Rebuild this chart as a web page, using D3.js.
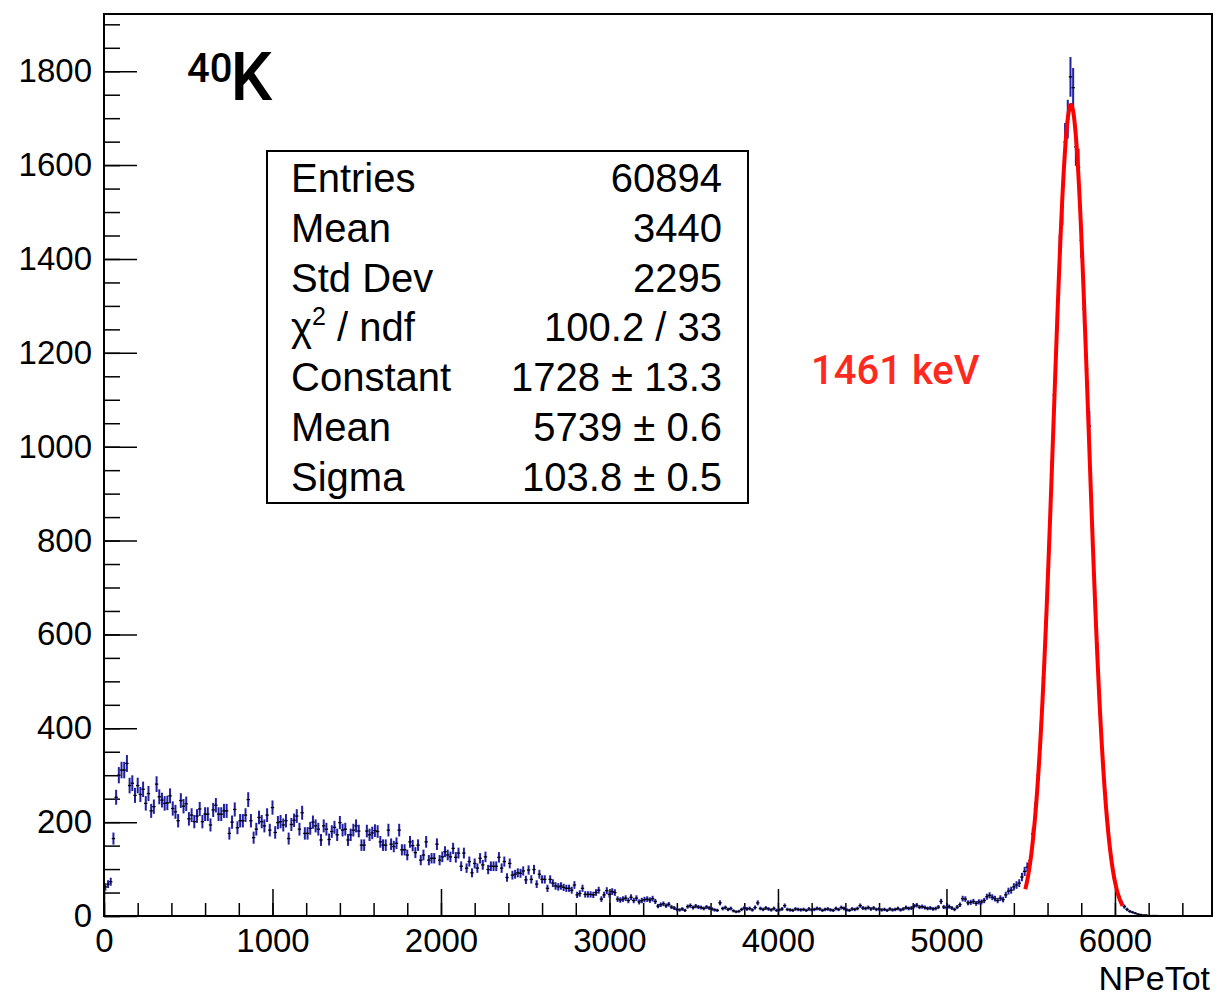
<!DOCTYPE html>
<html lang="en">
<head>
<meta charset="utf8">
<script type="text/javascript" src="https://d3js.org/d3.v7.min.js"></script>
<title>40K NPeTot</title>
<style>
  body { margin: 0; background: #fff; }
</style>
</head>
<body>
<div class="hist"></div>
<script type="text/javascript">
    // histogram settings
    var binWidth = 16;
    var xMax = 6576;
    var yMax = 1922;
    // bin contents (bin i covers [16i, 16i+16))
    var counts = [
        62,68,73,165,253,300,311,311,325,278,283,257,278,259,270,240,261,224,233,281,
        254,247,240,241,256,229,222,203,246,234,239,207,215,201,213,228,201,217,217,194,
        226,236,217,217,224,224,176,200,227,188,203,203,215,248,203,167,185,210,201,192,
        215,183,231,178,199,201,194,203,165,195,204,213,185,220,176,176,187,200,192,185,
        162,192,185,163,180,189,173,199,183,185,162,173,183,192,181,151,151,181,173,177,
        182,180,158,151,151,183,153,148,155,183,141,141,130,158,150,135,151,119,130,158,
        119,123,123,153,119,126,137,130,126,144,125,134,106,134,102,116,92,112,102,123,
        109,126,99,106,106,106,125,102,116,82,112,87,89,92,91,96,77,98,78,99,
        68,89,78,78,59,78,70,64,62,64,61,59,59,55,66,45,48,59,46,46,
        46,45,50,55,36,45,54,46,52,50,36,34,36,38,33,40,33,38,30,33,
        35,36,34,37,31,21,24,26,22,25,19,17,14,13,15,12,20,22,18,21,
        19,18,16,19,17,15,13,12,28,16,18,14,16,11,9,10,14,17,15,16,
        13,18,28,16,14,17,15,13,16,12,13,15,22,14,13,12,15,14,13,14,
        12,15,13,14,16,15,12,14,15,13,12,16,14,18,16,13,12,15,14,16,
        22,17,16,18,15,17,14,15,13,14,12,15,13,14,16,13,15,18,16,17,
        21,23,19,20,18,16,17,15,16,19,31,19,18,20,17,14,19,24,37,36,
        28,29,31,27,30,30,33,41,44,40,37,33,38,35,45,53,55,62,66,70,
        83,95,104,118,175,228,300,395,508,630,775,940,1110,1250,1414,1511,1649,1698,1788,1765,
        1639,1595,1440,1294,1165,1044,840,690,560,430,330,250,182,128,88,62,42,28,20,14,
        10,8,6,4,3,2,2,1,1,1,1,0,0,0,0,0,0,0,0,0,
        0,0,0,0,0,0,0,0,0,0,0
    ];
    // gaussian fit: constant, mean, sigma
    var fitPar = [1728, 5739, 103.8];
    var fitRange = [5468, 6046];
    // stat box
    var statNames = ["Entries", "Mean", "Std Dev", "chi2", "Constant", "Mean", "Sigma"];
    var statValues = ["60894", "3440", "2295", "100.2 / 33", "1728 \u00b1 13.3", "5739 \u00b1 0.6", "103.8 \u00b1 0.5"];
    var xTitle = "NPeTot";
    var peakLabel = "1461 keV";

    var width = 1218, height = 997;
    var fl = 104, fr = 1212, ft = 14, fb = 916;
    var font = "'Liberation Sans', Arial, Helvetica, sans-serif";

    var svg = d3.select("body div.hist")
        .append("svg")
        .attr("width", width)
        .attr("height", height)
        .style("background", "#fff");

    var x = d3.scaleLinear().domain([0, xMax]).range([fl, fr]);
    var y = d3.scaleLinear().domain([0, yMax]).range([fb, ft]);

    // 坐标轴 - minor then major ticks, pointing into the frame
    function styleAxis(g) {
        g.select(".domain").remove();
        g.selectAll(".tick line").attr("stroke", "#000").attr("stroke-width", 1.5);
        g.selectAll(".tick text").attr("fill", "#000").style("font-family", font).style("font-size", "33px");
    }
    svg.append("g").attr("transform", "translate(0," + fb + ")")
        .call(d3.axisBottom(x).tickValues(d3.range(0, xMax, 200)).tickSize(-13).tickFormat(""))
        .call(styleAxis);
    svg.append("g").attr("transform", "translate(0," + fb + ")")
        .call(d3.axisBottom(x).tickValues(d3.range(0, xMax, 1000)).tickSize(-27).tickPadding(13).tickFormat(d3.format("d")))
        .call(styleAxis);
    svg.append("g").attr("transform", "translate(" + fl + ",0)")
        .call(d3.axisLeft(y).tickValues(d3.range(0, yMax, 50)).tickSize(-16).tickFormat(""))
        .call(styleAxis);
    svg.append("g").attr("transform", "translate(" + fl + ",0)")
        .call(d3.axisLeft(y).tickValues(d3.range(0, 1900, 200)).tickSize(-33).tickPadding(12).tickFormat(d3.format("d")))
        .call(styleAxis);

    // 数据点和误差棒
    var bins = counts.map(function(c, i){ return {x: i * binWidth + binWidth / 2, c: c}; })
        .filter(function(d){ return d.c > 0; });
    var pts = svg.append("g").attr("class", "points");
    pts.selectAll("line.err")
        .data(bins).enter().append("line")
        .attr("class", "err")
        .attr("x1", function(d){ return x(d.x); })
        .attr("x2", function(d){ return x(d.x); })
        .attr("y1", function(d){ return y(d.c - Math.sqrt(d.c)); })
        .attr("y2", function(d){ return y(d.c + Math.sqrt(d.c)); })
        .attr("stroke", "#1f1fa0")
        .attr("stroke-width", 2);
    pts.selectAll("line.mk")
        .data(bins).enter().append("line")
        .attr("class", "mk")
        .attr("x1", function(d){ return x(d.x) - 1.7; })
        .attr("x2", function(d){ return x(d.x) + 1.7; })
        .attr("y1", function(d){ return y(d.c); })
        .attr("y2", function(d){ return y(d.c); })
        .attr("stroke", "#000")
        .attr("stroke-width", 1.3);

    // 拟合曲线
    var gaus = function(v){
        var z = (v - fitPar[1]) / fitPar[2];
        return fitPar[0] * Math.exp(-0.5 * z * z);
    };
    var fx = d3.range(fitRange[0], fitRange[1] + 1, 2);
    svg.append("path")
        .datum(fx)
        .attr("fill", "none")
        .attr("stroke", "#ff0000")
        .attr("stroke-width", 4)
        .attr("d", d3.line().x(function(v){ return x(v); }).y(function(v){ return y(gaus(v)); }));

    // 边框
    svg.append("rect")
        .attr("x", fl).attr("y", ft)
        .attr("width", fr - fl).attr("height", fb - ft)
        .attr("fill", "none").attr("stroke", "#000").attr("stroke-width", 2);

    // x title
    svg.append("text")
        .attr("x", 1210).attr("y", 990)
        .attr("text-anchor", "end")
        .style("font-family", font).style("font-size", "34px")
        .text(xTitle);

    // 40K label
    var iso = svg.append("text")
        .attr("x", 187).attr("y", 100)
        .style("font-family", "Roboto, 'DejaVu Sans', sans-serif")
        .style("font-weight", 500);
    iso.append("tspan").attr("dy", -18).style("font-size", "40px").text("40");
    iso.append("tspan").attr("dy", 18).attr("dx", -2).style("font-size", "66px").text("K");

    // peak label
    svg.append("text")
        .attr("x", 811).attr("y", 384)
        .attr("fill", "#ff2a1f")
        .style("font-family", "Roboto, 'DejaVu Sans', sans-serif")
        .style("font-weight", 500)
        .style("font-size", "40px")
        .text(peakLabel);

    // stat box
    var box = svg.append("g").attr("class", "stats");
    box.append("rect")
        .attr("x", 267).attr("y", 151)
        .attr("width", 481).attr("height", 352)
        .attr("fill", "#fff").attr("stroke", "#000").attr("stroke-width", 2);
    for (var i = 0; i < statNames.length; i++){
        var by = 192 + i * 49.8;
        var t = box.append("text")
            .attr("x", 291).attr("y", by)
            .style("font-family", font).style("font-size", "40px");
        if (statNames[i] === "chi2"){
            t.append("tspan").text("\u03c7");
            t.append("tspan").attr("dy", -16).style("font-size", "25px").text("2");
            t.append("tspan").attr("dy", 16).text(" / ndf");
        } else {
            t.text(statNames[i]);
        }
        box.append("text")
            .attr("x", 722).attr("y", by)
            .attr("text-anchor", "end")
            .style("font-family", font).style("font-size", "40px")
            .text(statValues[i]);
    }
</script>
</body>
</html>
